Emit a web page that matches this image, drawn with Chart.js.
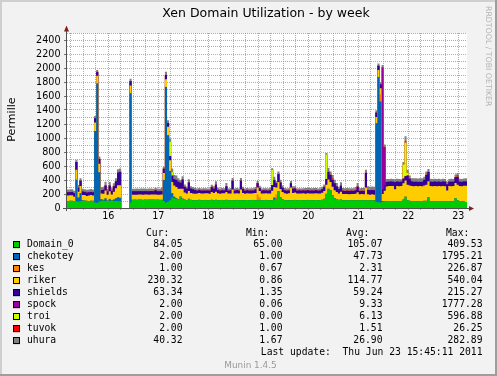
<!DOCTYPE html>
<html><head><meta charset="utf-8">
<script src="https://cdn.jsdelivr.net/npm/chart.js@4.4.1/dist/chart.umd.min.js"></script>
<style>html,body{margin:0;padding:0;background:#f2f2f2;}canvas{display:block;}</style>
</head><body>
<canvas id="c" width="497" height="376"></canvas>
<script>
// ---- data (hourly samples, first sample starts Jun 15 16:12; null = no data) ----
const names  = ['Domain_0','chekotey','kes','riker','shields','spock','troi','tuvok','uhura'];
const colors = ['#00CC00','#0066B3','#FF8000','#FFCC00','#330099','#990099','#CCFF00','#FF0000','#808080'];
const curVals = [84.05, 2.00, 1.00, 230.32, 63.34, 2.00, 2.00, 2.00, 40.32];
const minVals = [65.00, 1.00, 0.67, 0.86, 1.35, 0.06, 0.00, 1.00, 1.67];
const avgVals = [105.07, 47.73, 2.31, 114.77, 59.24, 9.33, 6.13, 1.51, 26.90];
const maxVals = [409.53, 1795.21, 226.87, 540.04, 215.27, 1777.28, 596.88, 26.25, 282.89];
const dayLabels = ['16','17','18','19','20','21','22','23'];
const yLabelValues = [0,200,400,600,800,1000,1200,1400,1600,1800,2000,2200,2400];
const titleText = 'Xen Domain Utilization - by week';
const lastUpdate = 'Last update:  Thu Jun 23 15:45:11 2011';

const domain0 = [
98,102,100,96,95,90,95,100,104,100,98,102,100,80,70,90,105,108,100,105,100,108,100,100,
95,95,null,null,null,null,80,115,118,116,120,118,116,119,117,118,120,118,117,118,116,115,100,80,
90,110,150,140,130,120,160,130,120,110,130,115,112,110,112,115,112,110,114,112,110,115,112,115,
112,110,114,112,115,112,110,110,112,114,112,110,112,110,113,112,110,114,112,112,110,112,110,114,
112,110,110,120,130,240,150,125,112,110,112,110,112,114,112,110,113,112,110,114,112,110,112,113,
112,110,115,130,200,270,250,180,140,125,115,120,112,110,112,110,111,112,110,112,110,112,110,110,
110,108,110,108,90,80,80,90,90,95,98,95,96,95,97,95,96,120,160,110,100,96,95,97,
95,96,95,100,100,150,96,95,97,95,96,95,97,95,96,95,97,95,140,110,96,95,90,84];
const chekotey = [
2,2,2,2,310,60,120,10,2,2,2,2,2,1020,1710,420,20,10,40,2,30,2,20,40,
60,50,null,null,null,null,1560,2,2,2,2,2,2,2,2,2,2,2,2,2,2,2,300,1650,
950,420,60,20,10,5,5,5,2,2,2,2,2,2,2,2,2,2,2,2,2,2,2,2,
2,2,2,2,2,2,2,2,2,2,2,2,2,2,2,2,2,2,2,2,2,2,2,2,
2,2,5,30,2,2,2,2,2,2,2,2,2,2,2,2,2,2,2,2,2,2,2,2,
2,2,2,2,2,5,2,2,2,2,2,2,2,2,2,2,2,2,2,2,2,2,2,2,
2,2,2,2,1120,1790,1440,10,5,2,2,2,2,2,2,2,2,2,2,2,2,2,2,2,
2,2,2,2,2,2,2,2,2,2,2,2,2,2,2,2,2,2,2,2,2,2,2,2];
const kes = [
1,1,1,1,1,1,1,1,1,1,1,1,1,1,1,1,1,1,1,1,1,1,1,1,
1,1,null,null,null,null,1,1,1,1,1,1,1,1,1,1,1,1,1,1,1,1,1,1,
1,1,1,1,1,1,1,1,1,1,1,1,1,1,1,1,1,1,1,1,1,1,1,1,
1,1,1,1,1,1,1,1,1,1,1,1,1,1,1,1,1,1,1,80,40,1,1,1,
1,1,1,1,60,1,1,1,1,1,1,1,1,1,1,1,1,1,1,1,1,1,1,1,
1,1,1,1,1,1,1,1,1,1,1,1,1,1,1,1,1,1,1,1,1,1,1,1,
1,1,1,1,1,1,100,1,1,1,1,1,1,1,1,1,1,1,1,1,1,1,1,1,
1,1,1,1,1,1,1,1,1,1,1,1,1,1,1,1,1,1,1,1,1,1,1,1];
const riker = [
78,76,80,60,140,80,100,75,78,70,78,80,75,120,110,120,80,85,110,80,110,82,110,140,
170,180,null,null,null,null,110,72,70,72,70,71,72,70,72,70,71,72,72,70,72,75,100,110,
120,150,160,160,160,150,110,140,100,95,110,95,92,92,92,95,93,95,92,94,92,110,100,115,
95,92,93,95,110,92,95,150,93,95,92,150,100,92,94,92,95,92,100,100,90,92,95,93,
92,95,130,150,100,130,120,100,95,92,94,180,100,105,92,95,92,94,92,95,92,94,92,95,
92,94,100,110,130,130,120,120,110,100,90,110,85,86,84,85,86,85,90,110,85,86,85,180,
85,80,82,80,90,100,90,100,150,210,212,215,214,170,215,212,215,230,230,220,220,215,214,215,
212,215,214,220,230,230,215,212,215,214,215,212,215,214,150,215,212,215,215,220,215,212,225,230];
const shields = [
45,44,46,50,110,60,75,50,45,48,45,44,46,60,50,70,50,55,70,48,80,50,80,100,
180,190,null,null,null,null,60,48,47,48,46,48,48,48,47,48,48,46,62,48,47,48,60,60,
50,60,90,90,100,100,85,130,80,70,120,65,60,52,40,42,40,41,40,40,42,70,60,100,
45,40,42,40,80,40,42,125,40,42,40,125,55,40,42,40,41,40,50,60,45,40,42,40,
40,45,80,100,60,110,90,60,42,40,42,60,60,55,40,42,40,41,40,42,40,42,40,41,
40,42,50,60,80,110,100,100,100,80,60,85,45,44,46,45,45,44,50,80,45,45,46,210,
60,62,60,62,60,60,55,60,80,65,62,64,62,100,62,64,62,65,60,130,95,65,62,60,
62,60,62,80,140,130,62,64,62,62,64,62,62,63,90,62,64,62,80,110,62,64,62,63];
const spock = [
2,2,2,2,2,2,2,2,2,2,2,2,2,2,2,2,2,2,2,2,2,2,2,2,
2,2,null,null,null,null,2,2,2,2,2,2,2,2,2,2,2,2,2,2,2,2,2,2,
2,2,2,2,2,2,2,2,2,2,2,2,2,2,2,2,2,2,2,2,2,2,2,2,
2,2,2,2,2,2,2,2,2,2,2,2,2,2,2,2,2,2,2,2,2,2,2,2,
2,2,2,2,2,2,2,2,2,2,2,2,2,2,2,2,2,2,2,2,2,2,2,2,
2,2,2,2,2,2,2,2,2,2,2,2,2,2,2,2,2,2,2,2,2,2,2,2,
2,2,2,2,2,2,2,1750,550,2,2,2,2,2,2,2,2,2,2,2,2,2,2,2,
2,2,2,2,2,2,2,2,2,2,2,2,2,2,2,2,2,2,2,2,2,2,2,2];
const troi = [
1,1,1,1,1,1,1,1,1,1,1,1,1,1,1,1,1,1,1,1,1,1,1,1,
1,1,null,null,null,null,1,1,1,1,1,1,1,1,1,1,1,1,1,1,1,1,1,1,
1,200,50,1,1,1,1,1,1,1,1,1,1,1,1,1,1,1,1,1,1,1,1,1,
1,1,1,1,1,1,1,1,1,1,1,1,1,1,1,1,1,1,1,1,1,1,1,1,
1,1,220,1,1,1,1,1,1,1,1,1,1,1,1,1,1,1,1,1,1,1,1,1,
1,1,1,1,350,1,1,1,1,1,1,1,1,1,1,1,1,1,1,1,1,1,1,1,
1,1,1,1,1,1,1,1,1,1,1,1,1,1,1,1,1,200,480,40,1,1,1,1,
1,1,1,1,1,1,1,1,1,1,1,1,1,1,1,1,1,1,1,1,1,1,1,2];
const tuvok = [
1,1,1,1,1,1,1,1,1,1,1,1,1,1,1,1,1,1,1,1,1,1,1,1,
1,1,null,null,null,null,1,1,1,1,1,1,1,1,1,1,1,1,1,1,1,1,1,1,
1,1,1,1,1,1,1,1,1,1,1,1,1,1,1,1,1,1,1,1,1,1,1,1,
1,1,1,1,1,1,1,1,1,1,1,1,1,1,1,1,1,1,1,1,1,1,1,1,
1,1,1,1,1,1,1,1,1,1,1,1,1,1,1,1,1,1,8,1,8,1,8,1,
1,1,1,1,1,1,1,20,1,1,1,1,1,1,1,1,1,1,1,1,1,1,1,1,
1,1,1,1,1,1,1,1,1,2,2,2,2,2,2,2,2,2,20,2,2,2,2,2,
2,2,2,2,2,2,2,2,2,2,2,2,2,2,2,2,2,2,2,20,2,2,2,2];
const uhura = [
35,36,34,35,30,35,30,35,34,36,35,40,35,30,25,30,35,40,50,35,45,36,40,40,
45,45,null,null,null,null,30,33,33,34,33,33,34,33,33,34,33,33,33,34,33,48,25,40,
40,50,50,55,60,45,35,45,30,25,45,28,28,28,28,27,28,28,28,27,28,30,30,45,
30,28,28,27,45,28,28,35,28,27,28,35,30,28,28,27,28,28,30,30,28,28,27,28,
28,30,20,40,25,35,35,30,28,28,27,30,30,28,28,27,28,28,28,27,28,28,27,28,
28,28,30,30,20,50,45,45,45,45,30,45,35,35,36,35,34,35,40,48,35,35,36,40,
48,48,48,48,30,30,30,30,30,36,35,36,35,36,35,36,30,35,70,40,40,40,45,46,
45,46,45,40,45,40,36,35,36,35,36,35,36,35,36,35,36,35,35,35,36,35,38,40];

// ---- chart ----
const W = 497, H = 376;
const T0 = -7.8;            // hours relative to Jun 16 00:00 of the first sample
const SPAN = 192;           // hours shown
const series = [domain0, chekotey, kes, riker, shields, spock, troi, tuvok, uhura];
const MAJOR = 'rgba(222,79,79,0.6)';
const MINOR = 'rgba(143,143,143,0.75)';
const SANS = '"DejaVu Sans", sans-serif';
const MONO = '"DejaVu Sans Mono", monospace';

const datasets = series.map((vals, k) => {
  const pts = vals.map((v, i) => ({x: T0 + i, y: v === null ? 0 : v}));
  pts.push({x: T0 + vals.length, y: pts[pts.length - 1].y});
  return {
    label: names[k], data: pts, backgroundColor: colors[k],
    borderColor: 'rgba(0,0,0,0)', borderWidth: 0, pointRadius: 0,
    stepped: true, fill: 'origin'
  };
});

const xGrid = [];
for (let h = -6; h <= 180; h += 6) xGrid.push(h);
const yGrid = [];
for (let v = 0; v <= 2500; v += 100) yGrid.push(v);

const decor = {
  id: 'decor',
  beforeDraw(chart) {
    const {ctx, chartArea: a} = chart;
    ctx.save();
    ctx.fillStyle = '#f2f2f2'; ctx.fillRect(0, 0, W, H);
    ctx.fillStyle = '#cfcfcf'; ctx.fillRect(0, 0, W, 2); ctx.fillRect(0, 0, 2, H);
    ctx.fillStyle = '#9e9e9e'; ctx.fillRect(0, H - 2, W, 2); ctx.fillRect(W - 2, 0, 2, H);
    ctx.fillStyle = '#ffffff'; ctx.fillRect(a.left, a.top, a.right - a.left, a.bottom - a.top);
    ctx.restore();
  },
  afterDraw(chart) {
    const {ctx, chartArea: a} = chart;
    ctx.save();
    // axes
    ctx.strokeStyle = '#505050'; ctx.lineWidth = 1;
    ctx.beginPath();
    ctx.moveTo(a.left - 0.5, a.bottom + 3); ctx.lineTo(a.left - 0.5, a.top - 4);
    ctx.moveTo(a.left - 4, a.bottom + 0.5); ctx.lineTo(a.right + 3, a.bottom + 0.5);
    ctx.stroke();
    ctx.fillStyle = '#801f1f';
    ctx.beginPath();
    ctx.moveTo(a.left - 3, a.top - 1.5); ctx.lineTo(a.left + 2, a.top - 1.5); ctx.lineTo(a.left - 0.5, a.top - 7.5);
    ctx.closePath(); ctx.fill();
    ctx.beginPath();
    ctx.moveTo(a.right + 2, a.bottom - 2); ctx.lineTo(a.right + 2, a.bottom + 3); ctx.lineTo(a.right + 7, a.bottom + 0.5);
    ctx.closePath(); ctx.fill();

    // title
    ctx.fillStyle = '#000';
    ctx.font = '12.5px ' + SANS;
    ctx.textAlign = 'center'; ctx.textBaseline = 'alphabetic';
    ctx.fillText(titleText, 266, 17);

    // vertical label
    ctx.save();
    ctx.translate(15, 119.5); ctx.rotate(-Math.PI / 2);
    ctx.font = '11.1px ' + SANS; ctx.textAlign = 'center';
    ctx.fillText('Permille', 0, 0);
    ctx.restore();

    // watermark
    ctx.save();
    ctx.translate(485.5, 6); ctx.rotate(Math.PI / 2);
    ctx.font = '7.8px ' + SANS; ctx.textAlign = 'left'; ctx.fillStyle = '#b4b4b4';
    ctx.fillText('RRDTOOL / TOBI OETIKER', 0, 0);
    ctx.restore();

    // legend table
    ctx.font = '9.7px ' + MONO; ctx.textBaseline = 'middle'; ctx.fillStyle = '#000';
    ctx.textAlign = 'left';
    ['Cur:', 'Min:', 'Avg:', 'Max:'].forEach((h, j) => ctx.fillText(h, 146 + 100 * j, 233.5));
    const cols = [curVals, minVals, avgVals, maxVals];
    names.forEach((n, i) => {
      const y = 244.7 + 12 * i;
      ctx.fillStyle = colors[i]; ctx.fillRect(13, y - 3.5, 7, 7);
      ctx.strokeStyle = '#000'; ctx.lineWidth = 1; ctx.strokeRect(13.5, Math.round(y - 3.5) + 0.5, 6, 6);
      ctx.fillStyle = '#000'; ctx.textAlign = 'left';
      ctx.fillText(n, 27, y);
      ctx.textAlign = 'right';
      cols.forEach((c, j) => ctx.fillText(c[i].toFixed(2), 182.5 + 100 * j, y));
    });
    ctx.textAlign = 'right';
    ctx.fillText(lastUpdate, 482.5, 352.7);

    ctx.font = '8.9px ' + SANS; ctx.fillStyle = '#9a9a9a'; ctx.textAlign = 'center';
    ctx.fillText('Munin 1.4.5', 250.5, 366);
    ctx.restore();
  }
};

new Chart(document.getElementById('c'), {
  type: 'line',
  data: {datasets},
  plugins: [decor],
  options: {
    responsive: false, animation: false, events: [],
    layout: {padding: {left: 0, right: 30, top: 33, bottom: 148}},
    plugins: {legend: {display: false}, tooltip: {enabled: false}, title: {display: false}},
    scales: {
      x: {
        type: 'linear', min: T0, max: T0 + SPAN,
        afterBuildTicks: s => { s.ticks = xGrid.map(v => ({value: v})); },
        afterFit: s => { s.height = 20; },
        ticks: {
          autoSkip: false, maxRotation: 0, padding: 1, color: '#000',
          font: {family: SANS, size: 9.6},
          callback: v => ((v - 12) % 24 === 0 ? dayLabels[(v - 12) / 24] : '')
        },
        grid: {
          color: c => (c.tick && c.tick.value % 24 === 0 ? MAJOR : MINOR),
          tickColor: c => (c.tick && c.tick.value % 24 === 0 ? MAJOR : MINOR),
          tickLength: 2, lineWidth: 1
        },
        border: {display: false, dash: [1, 1]}
      },
      y: {
        stacked: true, min: 0, max: 2500,
        afterBuildTicks: s => { s.ticks = yGrid.map(v => ({value: v})); },
        afterFit: s => { s.width = 67; },
        ticks: {
          autoSkip: false, padding: 3.5, color: '#000',
          font: {family: SANS, size: 9.6},
          callback: v => (yLabelValues.includes(v) ? String(v) : '')
        },
        grid: {
          color: c => (c.tick && c.tick.value % 200 === 0 ? MAJOR : MINOR),
          tickColor: c => (c.tick && c.tick.value % 200 === 0 ? '#707070' : 'rgba(0,0,0,0)'),
          tickLength: 3, lineWidth: 1
        },
        border: {display: false, dash: [1, 1]}
      }
    }
  }
});
</script>
</body></html>
